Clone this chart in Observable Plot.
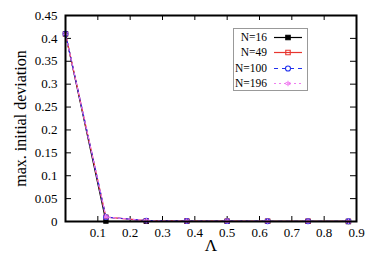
<!DOCTYPE html>
<html>
<head>
<meta charset="utf-8">
<script src="https://cdn.jsdelivr.net/npm/d3@7"></script>
<script src="https://cdn.jsdelivr.net/npm/@observablehq/plot@0.6"></script>
<style>
  html, body { margin: 0; padding: 0; background: #fff; }
  #wrap { position: relative; width: 374px; height: 262px; font-family: "Liberation Serif", "Times New Roman", serif; }
  #legend { position: absolute; left: 233px; top: 28px; width: 75px; height: 63px; border: 1px solid #999; background: #fff; box-sizing: border-box; }
  .row { position: absolute; left: 0; width: 74px; height: 15px; font-size: 11.5px; line-height: 15px; }
  .row span { position: absolute; right: 41px; white-space: nowrap; }
  .row svg { position: absolute; left: 39px; top: 0; }
</style>
</head>
<body>
<div id="wrap"><div id="legend"></div></div>
<script>
const lambda = [0, 0.125, 0.25, 0.375, 0.5, 0.625, 0.75, 0.875];
const seriesNames = ["N=16", "N=49", "N=100", "N=196"];
const n16  = [0.41, 0.001, 0.0006, 0.0004, 0.0003, 0.0002, 0.0002, 0.0001];
const n49  = [0.41, 0.0095, 0.002, 0.001, 0.0008, 0.0006, 0.0005, 0.0004];
const n100 = [0.41, 0.0095, 0.002, 0.001, 0.0008, 0.0006, 0.0005, 0.0004];
const n196 = [0.41, 0.0098, 0.002, 0.001, 0.0008, 0.0006, 0.0005, 0.0004];
const xTicks = [0.1, 0.2, 0.3, 0.4, 0.5, 0.6, 0.7, 0.8, 0.9];
const yTicks = [0, 0.05, 0.1, 0.15, 0.2, 0.25, 0.3, 0.35, 0.4, 0.45];
const yLabel = "max. initial deviation";
const xLabel = "Λ";

const colors = ["#000000", "#e8352f", "#2030ee", "#f07cf0"];
const dashes = [null, null, "4,4", "2,3"];
const symbols = ["square", "square", "circle", "asterisk"];
const fills = ["#000000", "none", "none", "none"];

const values = [n16, n49, n100, n196];
const data = values.flatMap((vals, i) => vals.map((v, j) => ({series: seriesNames[i], idx: i, x: lambda[j], y: v})));

const marks = [];
// inward ticks on all four sides
marks.push(Plot.ruleX(xTicks, {x: d => d, insetTop: 201, stroke: "#000"}));
marks.push(Plot.ruleX(xTicks, {x: d => d, insetBottom: 201, stroke: "#000"}));
marks.push(Plot.ruleY(yTicks, {y: d => d, insetRight: 285, stroke: "#000"}));
marks.push(Plot.ruleY(yTicks, {y: d => d, insetLeft: 285, stroke: "#000"}));
marks.push(Plot.axisX(xTicks, {tickSize: 0, tickPadding: 6, label: null, tickFormat: d => String(d)}));
marks.push(Plot.axisY(yTicks, {tickSize: 0, tickPadding: 8, label: null, tickFormat: d => String(d)}));

values.forEach((vals, i) => {
  const d = data.filter(r => r.idx === i);
  marks.push(Plot.line(d, {x: "x", y: "y", stroke: colors[i], strokeWidth: 1.2, strokeDasharray: dashes[i]}));
  marks.push(Plot.dot(d, {x: "x", y: "y", symbol: symbols[i], stroke: colors[i], fill: fills[i], r: 2.4, strokeWidth: 1.1}));
});

marks.push(Plot.frame({stroke: "#000", strokeWidth: 2}));
marks.push(Plot.text([yLabel], {frameAnchor: "left", textAnchor: "middle", dx: -45, rotate: -90, text: d => d}));
marks.push(Plot.text([xLabel], {frameAnchor: "bottom", textAnchor: "middle", dy: 29, text: d => d}));

const chart = Plot.plot({
  width: 374, height: 262,
  marginLeft: 65, marginRight: 18, marginTop: 15, marginBottom: 41,
  style: {fontFamily: "'Liberation Serif', 'Times New Roman', serif", fontSize: "13px", background: "white", color: "#000"},
  x: {domain: [0, 0.9]},
  y: {domain: [0, 0.45]},
  marks
});
// enlarge the axis titles
const textGroups = d3.select(chart).selectAll('g[aria-label="text"]').nodes();
if (textGroups.length >= 2) {
  d3.select(textGroups[0]).selectAll("text").style("font-size", "16px");
  d3.select(textGroups[1]).selectAll("text").style("font-size", "17px");
}
document.getElementById("wrap").prepend(chart);

// legend
const legend = document.getElementById("legend");
seriesNames.forEach((name, i) => {
  const row = document.createElement("div");
  row.className = "row";
  row.style.top = (0.5 + i * 15.5) + "px";
  const span = document.createElement("span");
  span.textContent = name;
  row.appendChild(span);
  const ns = "http://www.w3.org/2000/svg";
  const svg = document.createElementNS(ns, "svg");
  svg.setAttribute("width", 30); svg.setAttribute("height", 15);
  const ln = document.createElementNS(ns, "line");
  ln.setAttribute("x1", 1); ln.setAttribute("x2", 29); ln.setAttribute("y1", 7.5); ln.setAttribute("y2", 7.5);
  ln.setAttribute("stroke", colors[i]); ln.setAttribute("stroke-width", 1.2);
  if (dashes[i]) ln.setAttribute("stroke-dasharray", dashes[i]);
  svg.appendChild(ln);
  const sym = d3.symbol(symbols[i] === "square" ? d3.symbolSquare : symbols[i] === "circle" ? d3.symbolCircle : d3.symbolAsterisk, 20)();
  const p = document.createElementNS(ns, "path");
  p.setAttribute("d", sym); p.setAttribute("transform", "translate(15,7.5)");
  p.setAttribute("stroke", colors[i]); p.setAttribute("fill", fills[i]); p.setAttribute("stroke-width", 1.1);
  svg.appendChild(p);
  row.appendChild(svg);
  legend.appendChild(row);
});
</script>
</body>
</html>
